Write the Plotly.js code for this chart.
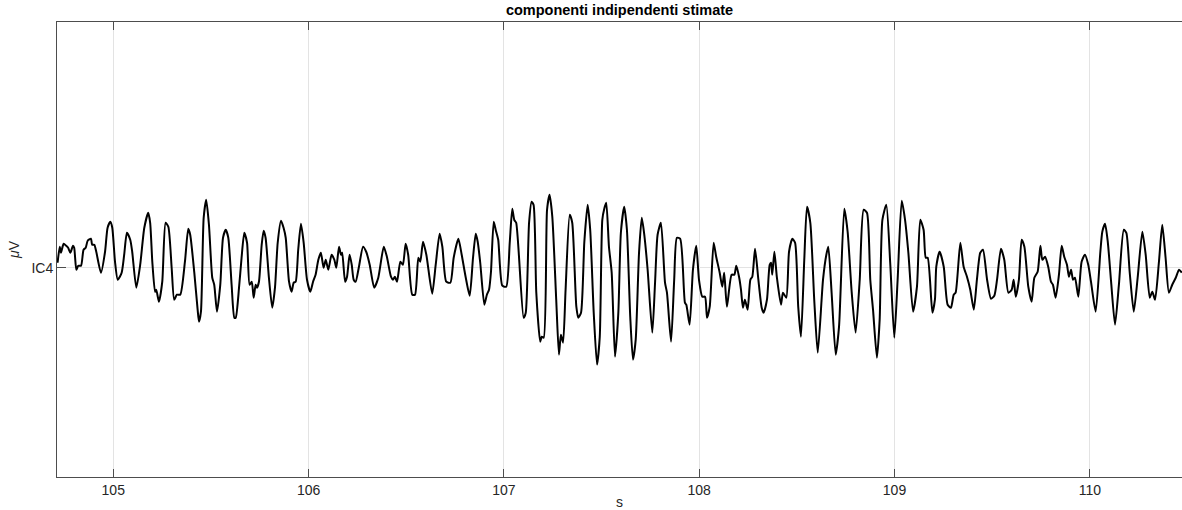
<!DOCTYPE html>
<html>
<head>
<meta charset="utf-8">
<script src="https://cdn.plot.ly/plotly-3.0.1.min.js"></script>
<style>html,body{margin:0;padding:0;background:#fff;}#chart{width:1182px;height:510px;}</style>
</head>
<body>
<div id="chart"></div>
<script>
// time (s) and amplitude (arbitrary µV units, offset so IC4 baseline = 0)
const timeSeg1 = [104.715,104.726,104.732,104.746,104.759,104.769,104.780,104.794,104.800,104.811,104.821,104.835,104.848,104.859,104.869,104.886,104.892,104.903,104.913,104.937,104.958,104.971,104.985,104.995,105.009,105.023,105.043,105.056,105.070,105.087,105.097,105.118,105.138,105.159,105.179,105.189,105.200,105.214,105.220,105.234,105.251,105.268,105.282,105.299,105.312,105.326,105.343,105.367,105.384,105.394,105.415,105.432,105.439];
const ampSeg1  = [5,21,15,24,22,20,15,22,20,-2,2,2,18,20,27,29,23,23,16,-5,16,40,46,40,6,-12,-5,13,35,28,16,-20,3,40,55,45,6,-24,-22,-34,-14,45,41,0,-32,-27,-27,6,39,33,-5,-42,-54];

const timeSeg2 = [105.449,105.463,105.476,105.490,105.507,105.517,105.531,105.548,105.562,105.576,105.589,105.606,105.620,105.627,105.644,105.657,105.671,105.685,105.698,105.709,105.719,105.729,105.736,105.746,105.760,105.770,105.780,105.797,105.814,105.828,105.842,105.859,105.872,105.883,105.900,105.913,105.924,105.934,105.947,105.961,105.975,105.992,106.009,106.023,106.036,106.050,106.063,106.077,106.088,106.101,106.118,106.132,106.142,106.156];
const ampSeg2  = [-44,50,68,43,-10,-17,-44,-17,30,38,30,-17,-50,-50,-20,10,35,25,-17,-14,-30,-17,-20,-14,23,37,30,-10,-40,-20,25,47,40,30,-14,-24,-15,-14,18,44,25,-12,-24,-14,-7,8,15,0,8,-2,13,8,0,21];

const timeSeg3 = [106.166,106.172,106.187,106.197,106.210,106.221,106.231,106.241,106.258,106.279,106.295,106.313,106.336,106.357,106.385,106.401,106.422,106.432,106.442,106.453,106.470,106.483,106.497,106.510,106.531,106.545,106.562,106.572,106.586,106.603,106.633,106.651,106.671,106.685,106.705,106.726,106.743,106.767,106.784,106.804,106.825,106.842,106.856];
const ampSeg3  = [13,15,-14,-9,13,3,-12,-14,1,21,16,3,-20,-10,21,11,-9,-12,-9,-14,6,3,24,13,-27,-27,10,6,26,13,-26,3,34,21,-14,-15,10,29,13,-9,-28,10,34];

const timeSeg4 = [106.866,106.879,106.900,106.913,106.924,106.934,106.948,106.958,106.971,106.992,107.012,107.030,107.043,107.053,107.063,107.101,107.112,107.129,107.142,107.152,107.166,107.186,107.194,107.204,107.221,107.234,107.248,107.268,107.282,107.292,107.303,107.316,107.337,107.350,107.371,107.381,107.395,107.412,107.429,107.442,107.460,107.477,107.491,107.504,107.514,107.524,107.538,107.552,107.569];
const ampSeg4  = [26,5,-37,-27,-22,-4,46,38,28,-18,-19,25,59,48,45,-50,-45,45,66,63,-25,-74,-69,-70,58,73,51,-32,-87,-67,-75,-22,53,45,-39,-50,-45,26,63,38,-45,-97,-69,48,59,65,21,-5,-89];

const timeSeg5 = [107.586,107.599,107.616,107.630,107.647,107.661,107.675,107.692,107.706,107.719,107.736,107.760,107.774,107.787,107.804,107.825,107.835,107.856,107.872,107.886,107.903,107.927,107.934,107.951,107.968,107.985,107.999,108.016,108.030,108.040,108.054,108.074,108.087,108.105,108.118,108.128,108.142,108.166,108.180,108.190,108.204,108.214,108.224,108.234,108.248,108.262,108.272,108.286,108.303];
const ampSeg5  = [-45,35,61,38,-49,-92,-72,15,50,33,-2,-65,-15,33,45,-15,-25,-74,-12,30,29,-35,-37,-57,-2,22,-12,-29,-29,-50,-39,25,11,-5,-19,-5,-39,-7,-7,2,-9,-22,-40,-32,-42,-12,-9,19,-12];

const timeSeg6 = [108.320,108.330,108.347,108.361,108.368,108.374,108.385,108.398,108.419,108.429,108.446,108.460,108.477,108.491,108.507,108.521,108.538,108.552,108.569,108.589,108.607,108.634,108.651,108.661,108.678,108.699,108.716,108.743,108.760,108.781,108.801,108.822,108.842,108.859,108.876,108.890,108.910,108.924,108.938,108.958,108.978,108.999];
const ampSeg6  = [-40,-45,-32,3,5,-7,16,-10,-37,-25,-30,16,29,25,-39,-69,8,61,45,-32,-85,-12,13,21,-25,-87,-59,59,36,-25,-65,-12,58,55,-12,-42,-90,-52,48,63,5,-70];

const timeSeg7 = [109.016,109.037,109.054,109.071,109.095,109.115,109.132,109.149,109.160,109.170,109.194,109.207,109.214,109.231,109.252,109.272,109.289,109.303,109.313,109.337,109.354,109.371,109.388,109.406,109.422,109.439,109.453,109.474,109.494,109.511,109.525,109.545,109.562,109.583,109.600,109.610,109.621,109.637,109.651,109.665,109.685,109.702,109.716];
const ampSeg7  = [-12,67,48,15,-44,-19,48,38,10,10,-45,-32,1,16,1,-37,-40,-27,-25,25,1,-9,-22,-42,-12,15,18,-12,-31,-28,-12,19,8,-25,-22,-12,-29,-12,28,21,-19,-34,-10];

const timeSeg8 = [109.733,109.747,109.757,109.771,109.787,109.801,109.811,109.825,109.842,109.856,109.869,109.883,109.893,109.904,109.914,109.924,109.941,109.958,109.975,109.992,110.006,110.030,110.054,110.064,110.078,110.092,110.109,110.129,110.149,110.174,110.187,110.204,110.225,110.245,110.269,110.286,110.307,110.320,110.334,110.354,110.371,110.388,110.405,110.422,110.440,110.457,110.471];
const ampSeg8  = [-4,22,8,11,1,-14,-17,-30,-7,22,11,3,-9,-2,-12,-10,-29,6,13,3,-14,-44,16,36,44,26,-14,-57,-17,38,35,-4,-44,-10,36,13,-30,-24,-32,6,43,10,-25,-17,-10,-2,-5];

const channelLabels  = ['IC4'];
const channelOffsets = [0];
const titleText = 'componenti indipendenti stimate';
const xLabel = 's';
const yLabel = '<i>μ</i>V';

const time = [].concat(timeSeg1,timeSeg2,timeSeg3,timeSeg4,timeSeg5,timeSeg6,timeSeg7,timeSeg8);
const amp  = [].concat(ampSeg1,ampSeg2,ampSeg3,ampSeg4,ampSeg5,ampSeg6,ampSeg7,ampSeg8);

const FONT = 'Liberation Sans, Arial, Helvetica, sans-serif';
const AX = '#4d4d4d';

const trace = {
  x: time, y: amp.map(v => v + channelOffsets[0]),
  type: 'scatter', mode: 'lines',
  line: {color: '#000000', width: 2, shape: 'spline', smoothing: 0.6},
  hoverinfo: 'skip', showlegend: false
};

const layout = {
  width: 1182, height: 510,
  margin: {l: 57, r: 0, t: 22, b: 33, pad: 0},
  paper_bgcolor: '#ffffff', plot_bgcolor: '#ffffff',
  font: {family: FONT, color: '#262626', size: 14},
  title: {text: '<b>' + titleText + '</b>', font: {family: FONT, size: 14.5, color: '#000'},
          x: 0.5, xref: 'paper', xanchor: 'center', y: 0.981, yref: 'container', yanchor: 'middle'},
  xaxis: {
    range: [104.712, 110.472], tick0: 105, dtick: 1,
    showgrid: true, gridcolor: '#e3e3e3', gridwidth: 1, zeroline: false,
    showline: true, linecolor: AX, linewidth: 1, mirror: 'ticks',
    ticks: 'inside', ticklen: 8, tickcolor: AX, tickwidth: 1,
    tickfont: {family: FONT, size: 14, color: '#262626'},
    title: {text: xLabel, font: {family: FONT, size: 14, color: '#262626'}, standoff: 5},
    automargin: false
  },
  yaxis: {
    range: [-209.5, 246],
    tickvals: channelOffsets, ticktext: channelLabels,
    showgrid: true, gridcolor: '#e3e3e3', gridwidth: 1, zeroline: false,
    showline: true, linecolor: AX, linewidth: 1, mirror: false,
    ticks: 'inside', ticklen: 9, tickcolor: AX, tickwidth: 1,
    tickfont: {family: FONT, size: 14, color: '#262626'},
    title: {text: yLabel, font: {family: FONT, size: 14, color: '#262626'}, standoff: 8},
    automargin: false
  }
};

Plotly.newPlot('chart', [trace], layout, {displayModeBar: false, staticPlot: true});
</script>
</body>
</html>
